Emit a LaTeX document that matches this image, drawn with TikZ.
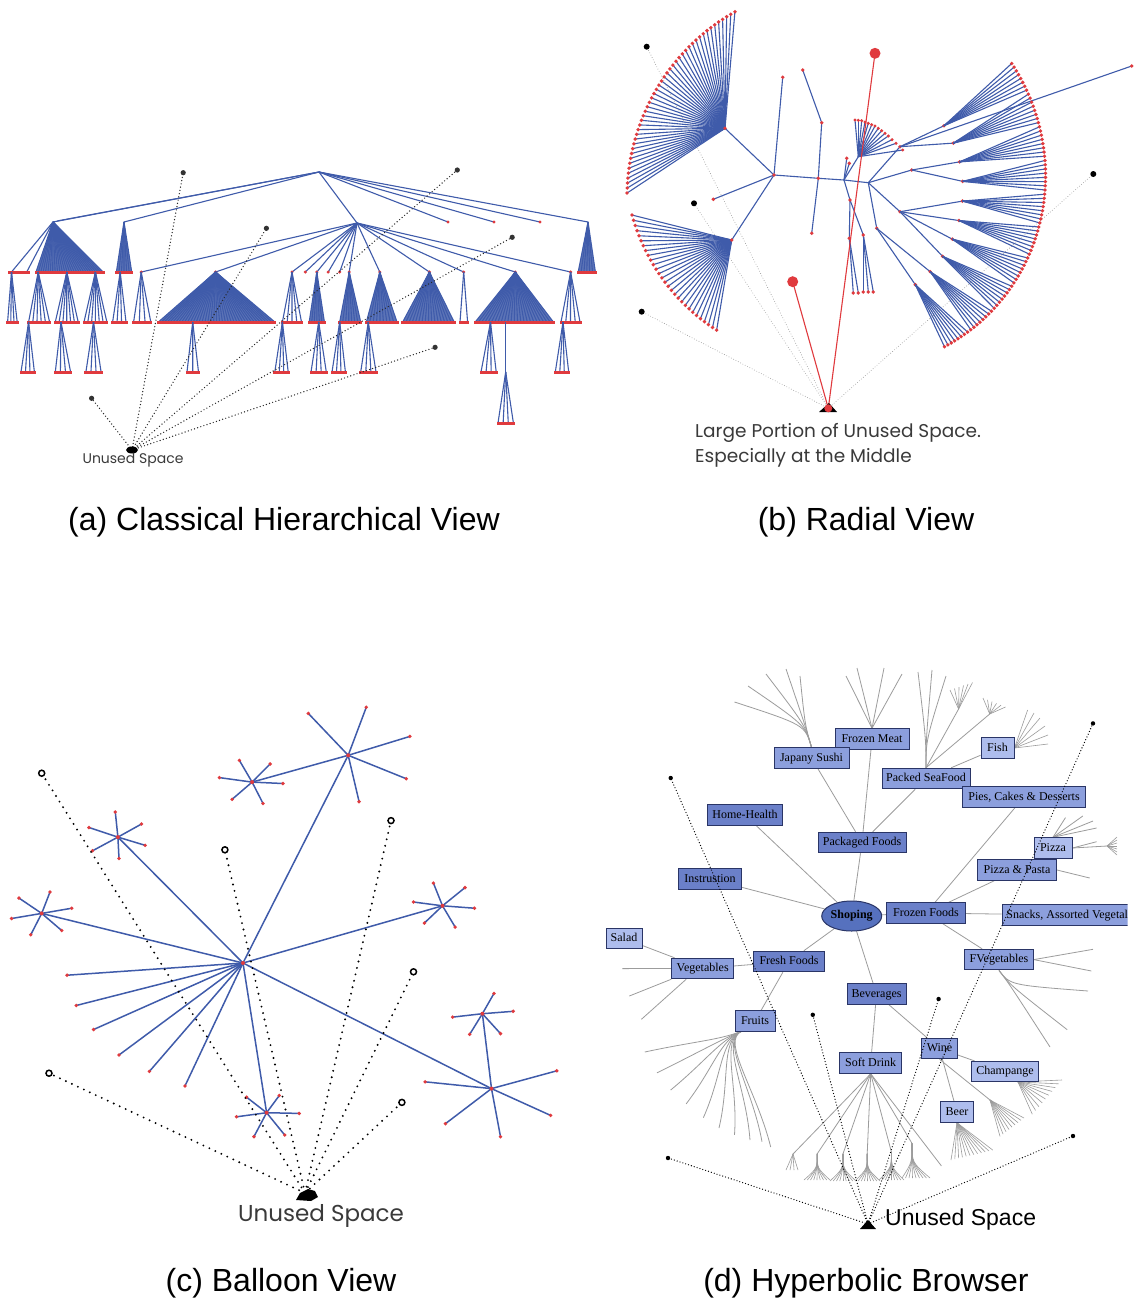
\documentclass[tikz,border=0pt]{standalone}
\usepackage{fontspec}
\setmainfont{Liberation Sans}
\newfontfamily\gothfont{Poppins}
\newfontfamily\boxfont{Liberation Serif}
\usetikzlibrary{shapes.geometric,backgrounds}

\definecolor{treeblue}{HTML}{3F5BAA}
\definecolor{leafred}{HTML}{E03A3E}
\definecolor{boxdk}{HTML}{6B80C9}
\definecolor{boxmd}{HTML}{8C9FDD}
\definecolor{boxlt}{HTML}{AEBDED}
\definecolor{boxedge}{HTML}{2A3566}
\definecolor{ellfill}{HTML}{5671BE}
\definecolor{edgegray}{HTML}{9C9C9C}
\definecolor{labelgray}{HTML}{3A3A3A}

\tikzset{
  tline/.style={treeblue, line width=1.1pt},
  cline/.style={treeblue, line width=1.5pt},
  adot/.style={black!85, line width=1.4pt, line cap=round, dash pattern=on 0pt off 3.3pt},
  bdot/.style={black!40, line width=0.9pt, line cap=round, dash pattern=on 0pt off 2.6pt},
  cdot/.style={black, line width=2.1pt, line cap=round, dash pattern=on 0pt off 6.6pt},
  ddot/.style={black, line width=1.3pt, line cap=round, dash pattern=on 0pt off 3pt},
  gline/.style={edgegray, line width=0.8pt},
  catbox/.style={draw=boxedge, line width=1pt, font=\boxfont\fontsize{12}{12}\selectfont,
    inner xsep=3.5pt, inner ysep=0pt, minimum height=20.5pt, text height=8.5pt, text depth=2.5pt},
  caption/.style={font=\fontsize{32}{32}\selectfont, anchor=base, text=black},
  gothlabel/.style={font=\gothfont\fontsize{#1}{#1}\selectfont, text=labelgray, inner sep=0pt},
}

% fan of #6+1 edges from apex (#1,#2) down to the row y=#5 between x=#3 and x=#4
\newcommand\rowfan[6]{%
  \foreach \k in {0,...,#6}{\draw[tline] (#1,#2) -- ({#3+(#4-#3)*\k/#6},#5);}%
  \fill[leafred] ({#3-1.5},{#5-1}) rectangle ({#4+1.5},{#5+1.5});}
% dense fan: shaded triangle under the edges
\newcommand\solidfan[6]{%
  \fill[treeblue!85] (#1,#2) -- (#3,#5) -- (#4,#5) -- cycle;
  \rowfan{#1}{#2}{#3}{#4}{#5}{#6}}
% balloon star: spokes from a centre to its leaves
\newcommand\spokes[2]{%
  \foreach \sx/\sy in {#2}{\draw[cline] (#1) -- (\sx,\sy); \fill[leafred] (\sx,\sy) circle (1.9);}}
% hyperbolic brush: 9 thin strokes from (#1,#2) spreading to x=#3..#4 at y=#5
\newcommand\brush[5]{%
  \foreach \k in {0,...,8}{\draw[gline, line width=0.6pt] (#1,#2) .. controls (#1,{#2+(#5-#2)*0.55}) .. ({#3+(#4-#3)*\k/8},#5);}}

\begin{document}
\begin{tikzpicture}[x=1pt,y=-1pt]
\useasboundingbox (0,0) rectangle (1139,1302);
\begin{scope}[on background layer]\fill[white] (0,0) rectangle (1139,1302);\end{scope}

% =============== (a) classical hierarchical view ===============
\coordinate (aR) at (319,172);
\coordinate (aA) at (53,222);
\coordinate (aB) at (124,222);
\coordinate (aC) at (357,223);
\coordinate (aD) at (588,222);
\draw[tline] (aR) -- (aA);
\draw[tline] (aR) -- (57,221);
\draw[tline] (aR) -- (aB);
\draw[tline] (aR) -- (aC);
\draw[tline] (aR) -- (aD);
\foreach \x in {448,494,540}{\draw[tline] (aR) -- (\x,222); \fill[leafred] (\x,222) circle (1.7);}
% first subtree
\solidfan{53}{222}{36}{103}{272}{28}
\draw[tline] (aA) -- (11.5,272); \draw[tline] (aA) -- (26.7,272);
\fill[leafred] (8,271) rectangle (30,273.5);
\rowfan{11.5}{272}{7.6}{17.2}{322}{3}
\rowfan{38.2}{272}{28.6}{49.6}{322}{5}
\rowfan{66.8}{272}{55.3}{78.2}{322}{6}
\rowfan{95.4}{272}{84}{106.9}{322}{6}
\rowfan{28.6}{322}{21}{34.4}{372}{3}
\rowfan{61}{322}{55.3}{70.6}{372}{3}
\rowfan{93.5}{322}{85.9}{101.1}{372}{3}
% second subtree
\solidfan{124}{222}{116.4}{131.7}{272}{6}
\rowfan{120.2}{272}{112.6}{126}{322}{3}
% third subtree
\foreach \x in {141.2,215.6,292,305.3,316.8,328.2,339.7,349.2,379.8,429.4,463.7,515.3,570.6}{
  \draw[tline] (aC) -- (\x,272); \fill[leafred] (\x,272) circle (1.7);}
\rowfan{141.2}{272}{133.6}{150.8}{322}{3}
\solidfan{215.6}{272}{158.4}{274.8}{322}{40}
\rowfan{292}{272}{282.4}{301.5}{322}{4}
\solidfan{316.8}{272}{309.2}{324.4}{322}{6}
\solidfan{349.2}{272}{339.7}{360.7}{322}{7}
\solidfan{379.8}{272}{366.4}{397}{322}{9}
\solidfan{429.4}{272}{402.7}{454.2}{322}{16}
\rowfan{463.7}{272}{460}{467.6}{322}{1}
\solidfan{515.3}{272}{475.2}{553.4}{322}{24}
\rowfan{570.6}{272}{561}{580}{322}{4}
\rowfan{192.7}{322}{187}{198.5}{372}{2}
\rowfan{282.4}{322}{274.8}{288.2}{372}{3}
\rowfan{318.7}{322}{311}{326.3}{372}{3}
\rowfan{339.7}{322}{332}{345.4}{372}{3}
\rowfan{368.3}{322}{360.7}{376}{372}{3}
\rowfan{490.5}{322}{481}{496.2}{372}{3}
\rowfan{563}{322}{555.3}{568.7}{372}{3}
\draw[tline] (505.7,322) -- (505.7,372);
\rowfan{505.7}{372}{498}{513.4}{423}{3}
% fourth subtree
\solidfan{588}{222}{578.2}{595.4}{272}{6}
% unused-space pointers
\coordinate (aU) at (132,450);
\foreach \x/\y in {183.2/172.7, 266.4/228.3, 457.3/170, 512.2/237.3, 435.1/347.3, 91.6/398.3}{
  \draw[adot] (aU) -- (\x,\y); \fill[black!80] (\x,\y) circle (2.6);}
\fill[black] (aU) ellipse [x radius=6, y radius=3.5];
\node[gothlabel=14, anchor=base] (aLbl) at (133,463) {Unused Space};
\node[caption] (aCap) at (284,530) {(a) Classical Hierarchical View};

% =============== (b) radial view ===============
\coordinate (bN1) at (774,175);
\coordinate (bN2) at (818.3,178.3);
\coordinate (bN3) at (844,180);
\coordinate (bN4) at (868.3,182.7);
\coordinate (bU) at (725,128.3);
\coordinate (bL) at (731.7,240);
\coordinate (bP) at (828.3,408.3);
% pointers to empty regions
\foreach \x/\y in {646.7/46.7, 694/203.3, 641.7/311.7, 1093.3/174}{
  \draw[bdot] (bP) -- (\x,\y); \fill[black] (\x,\y) circle (3);}
\draw[tline] (bN1) -- (bN2) -- (bN3) -- (bN4);
\draw[tline] (bN1) -- (bU);
\draw[tline] (bN1) -- (bL);
\foreach \j in {0,...,45}{
  \pgfmathsetmacro\ph{121.7+59.1*\j/45}
  \pgfmathsetmacro\rr{209.5+8.5*\j/45}
  \draw[tline] (bU) -- ({845+\rr*cos(\ph)},{190-\rr*sin(\ph)}) coordinate (bt);
  \fill[leafred] (bt) circle (1.9);}
\foreach \j in {0,...,28}{
  \pgfmathsetmacro\ph{186.7+40.8*\j/28}
  \pgfmathsetmacro\rr{214.5-24.5*\j/28}
  \draw[tline] (bL) -- ({845+\rr*cos(\ph)},{190-\rr*sin(\ph)}) coordinate (bt);
  \fill[leafred] (bt) circle (1.9);}
\draw[tline] (bN1) -- (713.3,199.3);
\draw[tline] (bN1) -- (782.7,77.3);
\coordinate (bV) at (821.7,122.7);
\draw[tline] (bN2) -- (bV) -- (802.7,70);
\draw[tline] (bN2) -- (811.7,233.3);
\foreach \x/\y in {713.3/199.3, 782.7/77.3, 821.7/122.7, 802.7/70, 811.7/233.3, 774/175, 818.3/178.3, 725/128.3, 731.7/240}
  \fill[leafred] (\x,\y) circle (1.9);
% middle cluster
\coordinate (bT) at (858.3,156.7);
\draw[tline] (bN3) -- (bT);
\foreach \x/\y in {855/120, 858.3/120.3, 861.7/120.7, 865/122, 868.3/123.3, 871.7/124.7, 875/126, 878.3/128.3, 881.7/130.7, 885/133.3, 888.3/136, 892/139.7, 896/143.3, 902.7/150}{
  \draw[tline] (bT) -- (\x,\y); \fill[leafred] (\x,\y) circle (1.7);}
\draw[tline] (bN3) -- (846.7,158.3); \fill[leafred] (846.7,158.3) circle (1.9);
\draw[tline] (bN3) -- (849.3,163.3); \fill[leafred] (849.3,163.3) circle (1.9);
\coordinate (bM) at (850,200);
\coordinate (bM2) at (849.3,238.3);
\coordinate (bM3) at (863.3,235);
\draw[tline] (bN3) -- (bM) -- (bM2);
\draw[tline] (bM) -- (bM3);
\foreach \x in {853.3,858.3}{\draw[tline] (bM2) -- (\x,293); \fill[leafred] (\x,293) circle (1.9);}
\foreach \x in {863.3,868.3,873.3}{\draw[tline] (bM3) -- (\x,292); \fill[leafred] (\x,292) circle (1.9);}
\foreach \x/\y in {850/200, 849.3/238.3, 863.3/235} \fill[leafred] (\x,\y) circle (1.9);
% right part
\coordinate (bQ) at (900,146.7);
\coordinate (bH1) at (911.7,170);
\coordinate (bH2) at (900,211.7);
\coordinate (bH3) at (876.7,228.3);
\draw[tline] (bN4) -- (bQ); \draw[tline] (bN4) -- (bH1);
\draw[tline] (bN4) -- (bH2); \draw[tline] (bN4) -- (bH3);
\draw[tline] (bQ) -- (1131.7,66); \fill[leafred] (1131.7,66) circle (1.9);
\foreach \x/\y in {900/146.7, 911.7/170, 900/211.7, 876.7/228.3} \fill[leafred] (\x,\y) circle (1.9);
\foreach \k/\hub in {0/bQ,1/bQ,2/bH1,3/bH1,4/bH2,5/bH2,6/bH2,7/bH2,8/bH3,9/bH3}{
  \pgfmathsetmacro\th{33-9.6*\k}
  \coordinate (bS) at ({845+118*cos(\th)},{190-118*sin(\th)});
  \draw[tline] (\hub) -- (bS);
  \fill[leafred] (bS) circle (1.9);
  \foreach \j in {0,...,7}{
    \pgfmathsetmacro\ph{\th-4.2+8.4*\j/7}
    \pgfmathsetmacro\rr{200+0.25*\ph}
    \draw[tline] (bS) -- ({845+\rr*cos(\ph)},{190-\rr*sin(\ph)}) coordinate (bt);
    \fill[leafred] (bt) circle (1.9);}}
% highlighted path
\draw[leafred, line width=1.1pt] (bP) -- (875,53.3);
\draw[leafred, line width=1.1pt] (bP) -- (792.7,281.7);
\fill[leafred] (875,53.3) circle (5.5);
\fill[leafred] (792.7,281.7) circle (5.5);
\fill[black] (819,412) -- (837,412) -- (829,403) -- cycle;
\fill[leafred] (bP) circle (4);
\node[gothlabel=18.5, anchor=base west] (bLbl1) at (695,437) {Large Portion of Unused Space.};
\node[gothlabel=18.5, anchor=base west] (bLbl2) at (695,462) {Especially at the Middle};
\node[caption] (bCap) at (866,530) {(b) Radial View};

% =============== (c) balloon view ===============
\coordinate (cH) at (243,963);
\coordinate (cS1) at (348.2,755.3);
\coordinate (cS2) at (252.1,782.1);
\coordinate (cS3) at (117.9,837.1);
\coordinate (cS4) at (41.7,913.4);
\coordinate (cS5) at (442.5,905.8);
\coordinate (cS6) at (482.4,1013.7);
\coordinate (cS7) at (491.5,1088.6);
\coordinate (cS8) at (266.6,1112.7);
\coordinate (cP) at (305,1193);
\foreach \s in {cS1,cS3,cS4,cS5,cS7,cS8}{\draw[cline] (cH) -- (\s);}
\draw[cline] (cS1) -- (cS2);
\draw[cline] (cS6) -- (cS7);
\spokes{cS1}{366.3/707.2, 308.3/713.4, 409.9/736.4, 406.2/778.7, 359.1/801.7}
\spokes{cS2}{239.4/760.4, 270.2/763.9, 219.4/777.6, 282.9/783.5, 232.1/799.3, 263/803.4}
\spokes{cS3}{115.3/812, 141.5/824, 88.9/827.5, 145.1/845.3, 92.5/850.8, 119/858.4}
\spokes{cS4}{50/892, 18.9/898, 71.8/908.2, 11.6/918.5, 61.7/930.5, 30.8/934.7}
\spokes{cS5}{433.4/883.1, 465/887.6, 413.5/902, 474.4/908.2, 424.4/923, 455.2/927.1}
\spokes{cS6}{494/993.4, 452.7/1017.1, 513.2/1011.3, 469.7/1034.3, 500.5/1033.6}
\spokes{cS7}{556.8/1070.8, 425.1/1081.8, 550.6/1115.4, 445.4/1123.7, 500.5/1136.7}
\spokes{cS8}{246.6/1097.2, 279.3/1095.5, 236.5/1116.8, 299.2/1113.4, 253.9/1136.7, 284.7/1135}
\spokes{cH}{67.1/975.2, 76.2/1005.5, 93.6/1029.5, 119/1055, 149.4/1071.4, 185/1085.9}
\foreach \s in {cH,cS1,cS2,cS3,cS4,cS5,cS6,cS7,cS8}{\fill[leafred] (\s) circle (2);}
\foreach \x/\y in {41.7/773.2, 224.9/849.8, 391/820.6, 413.5/971.8, 49/1073.2, 401.9/1102.4}{
  \draw[cdot] (cP) -- (\x,\y);
  \draw[black, line width=1.5pt, fill=white] (\x,\y) circle (3);}
\fill[black] (296,1200) -- (300,1193) -- (308,1189) -- (315,1191) -- (318,1197) -- (311,1201) -- cycle;
\node[gothlabel=23, anchor=base] (cLbl) at (321,1221) {Unused Space};
\node[caption] (cCap) at (281,1291) {(c) Balloon View};

% =============== (d) hyperbolic browser ===============
\node[catbox, fill=boxmd, minimum width=74pt] (frozmeat) at (872,739) {Frozen Meat};
\node[catbox, fill=boxmd, minimum width=75pt] (jsushi) at (811.5,758) {Japany Sushi};
\node[catbox, fill=boxlt, minimum width=33pt] (fish) at (997.5,748) {Fish};
\node[catbox, fill=boxmd, minimum width=88pt] (seafood) at (926,778.5) {Packed SeaFood};
\node[catbox, fill=boxmd, minimum width=123pt] (pies) at (1024,797) {Pies, Cakes \& Desserts};
\node[catbox, fill=boxdk, minimum width=75pt] (homeh) at (745,815) {Home-Health};
\node[catbox, fill=boxdk, minimum width=88pt] (packf) at (862,842.5) {Packaged Foods};
\node[catbox, fill=boxlt, minimum width=38pt] (pizza) at (1053,848) {Pizza};
\node[catbox, fill=boxmd, minimum width=79pt] (pizpas) at (1017,870) {Pizza \& Pasta};
\node[catbox, fill=boxdk, minimum width=63.5pt] (instr) at (710,879) {Instrustion};
\node[ellipse, draw=boxedge, line width=1pt, fill=ellfill, minimum width=60pt, minimum height=30pt, inner sep=0pt,
  font=\boxfont\bfseries\fontsize{12}{12}\selectfont] (shop) at (851.7,916) {Shoping};
\node[catbox, fill=boxdk, minimum width=78.5pt] (frozf) at (926,913) {Frozen Foods};
\begin{scope}
  \clip (990,890) rectangle (1127.6,935);
  \node[catbox, fill=boxmd, anchor=west, minimum width=130pt] (snacks) at (1001.7,915) {Snacks, Assorted Vegetal};
\end{scope}
\node[catbox, fill=boxlt, minimum width=36pt] (salad) at (624,938.5) {Salad};
\node[catbox, fill=boxmd, minimum width=62pt] (veg) at (702.7,968.5) {Vegetables};
\node[catbox, fill=boxdk, minimum width=71pt] (freshf) at (789,961.5) {Fresh Foods};
\node[catbox, fill=boxmd, minimum width=68.6pt] (fveg) at (999,959.6) {FVegetables};
\node[catbox, fill=boxdk, minimum width=59pt] (bev) at (876.5,994) {Beverages};
\node[catbox, fill=boxmd, minimum width=40pt] (fruits) at (755,1021) {Fruits};
\node[catbox, fill=boxmd, minimum width=36pt] (wine) at (939.5,1048.5) {Wine};
\node[catbox, fill=boxmd, minimum width=62pt] (softd) at (870.7,1063) {Soft Drink};
\node[catbox, fill=boxlt, minimum width=67pt] (champ) at (1005,1071.7) {Champange};
\node[catbox, fill=boxlt, minimum width=32.3pt] (beer) at (957,1112) {Beer};

\begin{scope}[on background layer]
  % category links
  \foreach \u/\v in {shop/packf, shop/homeh, shop/instr, shop/frozf, shop/freshf, shop/bev,
      packf/jsushi, packf/frozmeat, packf/seafood, frozf/pies, frozf/pizpas, frozf/snacks, frozf/fveg,
      freshf/veg, freshf/fruits, veg/salad, bev/softd, bev/wine, wine/champ, wine/beer, seafood/fish}
    \draw[gline] (\u) -- (\v);
  % outer branches, top
  \foreach \x/\y in {734.5/702, 748/686, 766/674, 786/669, 800/676}
    \draw[gline] (jsushi.north) .. controls (805,725) .. (\x,\y);
  \foreach \x/\y in {846/676, 857/668, 884/668, 902/674}
    \draw[gline] (frozmeat.north) -- (\x,\y);
  \foreach \x/\y in {918/672, 932/670, 946/676}
    \draw[gline] (seafood.north) .. controls (926,740) .. (\x,\y);
  \draw[gline] (seafood.north) -- (958.6,709);
  \draw[gline] (seafood.north) -- (989.7,714);
  \foreach \k in {0,...,5}{\draw[gline, line width=0.6pt] (958.6,709) -- ({950+4.5*\k},{690-1.5*\k});}
  \foreach \k in {0,...,5}{\draw[gline, line width=0.6pt] (989.7,714) -- ({983+4.5*\k},{698+1.8*\k});}
  \foreach \x/\y in {1027.6/710, 1034/713, 1040/718, 1045/726, 1048/735, 1048/744}
    \draw[gline, line width=0.6pt] (fish.east) -- (\x,\y);
  % outer branches, right
  \foreach \x/\y in {1065.5/817.6, 1082.8/816, 1093/821, 1096.6/828}
    \draw[gline] (pizza.north) -- (\x,\y);
  \draw[gline] (pizza.east) -- (1096.6,841.7);
  \draw[gline] (pizza.east) -- (1107,846);
  \foreach \k in {0,...,6}{\draw[gline, line width=0.6pt] (1107,846) -- (1117,{837+3*\k});}
  \draw[gline] (pizpas.east) -- (1089.7,878);
  \draw[gline] (fveg.east) -- (1093,949.3);
  \draw[gline] (fveg.east) -- (1091.4,971);
  \foreach \x/\y in {1088/991, 1067.2/1029.7, 1050/1047}
    \draw[gline] (fveg.south) .. controls (1010,985) .. (\x,\y);
  % outer branches, bottom right
  \foreach \k in {0,...,9}{\draw[gline, line width=0.6pt] (1018,1082) -- ({1062-3.3*\k},{1080+3.8*\k});}
  \draw[gline] (wine.south) -- (990,1100);
  \foreach \k in {0,...,8}{\draw[gline, line width=0.6pt] (990,1100) -- ({1024-3*\k},{1118+2.3*\k});}
  \foreach \k in {0,...,11}{\draw[gline, line width=0.6pt] (beer.south) -- ({951+3.8*\k},{1160-0.9*\k});}
  % outer branches, bottom
  \foreach \x/\y in {793/1154, 817.2/1153.8, 843/1153.8, 867.2/1153.8, 891.4/1152, 912/1143.4, 941.4/1165.9}
    \draw[gline] (softd.south) -- (\x,\y);
  \brush{817.2}{1153.8}{804}{830}{1180}
  \brush{843}{1153.8}{830}{856}{1181}
  \brush{867.2}{1153.8}{855}{880}{1181}
  \brush{891.4}{1152}{879}{904}{1180}
  \brush{912}{1143.4}{902}{930}{1178}
  \foreach \k in {0,...,3}{\draw[gline, line width=0.6pt] (793,1154) -- ({786+4*\k},1170);}
  % outer branches, left
  \foreach \x/\y in {644.8/1052, 657/1072.8, 670.7/1090, 686.2/1103.8, 703.4/1117.6, 719/1128, 734.5/1134.8, 750/1140, 762/1141.7, 770.7/1147}
    \draw[gline] (742,1031) .. controls (720,1040) and ({(\x+742)/2},{(\y+1031)/2}) .. (\x,\y);
  \draw[gline] (veg.west) -- (622.4,968.6);
  \draw[gline] (veg.south west) -- (629.3,996);
  \draw[gline] ([xshift=15pt]veg.south west) -- (641.4,1019.3);
\end{scope}

% pointers to empty regions
\coordinate (dP) at (868,1224);
\foreach \x/\y in {668/1158, 1073/1136, 670.7/778, 1093/723.4, 812.8/1014.8, 938.6/999}{
  \draw[ddot] (dP) -- (\x,\y); \fill[black] (\x,\y) circle (2.2);}
\fill[black] (860,1229) -- (876,1229) -- (868,1220) -- cycle;
\node[font=\fontsize{23}{23}\selectfont, anchor=base west, inner sep=0pt] (dLbl) at (885,1225) {Unused Space};
\node[caption] (dCap) at (866,1291) {(d) Hyperbolic Browser};
\end{tikzpicture}
\end{document}
